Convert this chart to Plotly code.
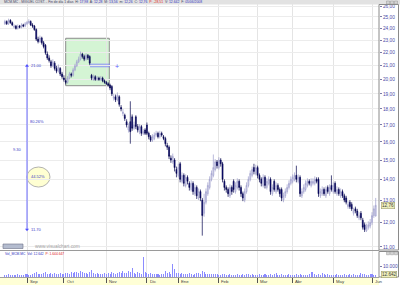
import math
import pandas as pd
import plotly.graph_objects as go

W, H = 400, 285

# ---------------- data ----------------
holidays = ['2007-12-24', '2007-12-25', '2007-12-26', '2007-12-31',
            '2008-01-01', '2008-03-21', '2008-03-24', '2008-05-01']
first_day, last_day = '2007-08-16', '2008-06-04'

month_starts = ['2007-09-01', '2007-10-01', '2007-11-01', '2007-12-01', '2008-01-01',
                '2008-02-01', '2008-03-01', '2008-04-01', '2008-05-01', '2008-06-01']
month_labels = ['Sep', 'Oct', 'Nov', 'Dic', 'Ene', 'Feb', 'Mar', 'Abr', 'May', 'Jun']

price_ticks = [11, 12, 13, 14, 15, 16, 17, 18, 19, 20, 21, 22, 23, 24, 25, 26]
vol_ticks = [10000]

open_ = [
    24.40, 24.60, 24.40, 24.70, 24.50, 24.10, 24.20, 24.00, 24.20, 24.10,
    24.30, 24.20, 24.40, 24.50, 24.60, 24.30, 24.20, 23.90, 23.10, 22.90,
    23.20, 22.80, 22.60, 21.90, 21.60, 21.30, 21.00, 21.20, 20.80, 20.60,
    20.80, 20.40, 20.10, 19.90, 19.80, 20.10, 20.40, 20.30, 20.70, 21.00,
    21.30, 21.50, 21.90, 21.70, 21.50, 21.80, 21.70, 20.30, 20.00, 20.20,
    20.00, 20.10, 20.00, 20.10, 19.90, 19.80, 19.70, 19.60, 19.50, 18.70,
    18.80, 18.60, 18.80, 18.10, 17.70, 17.60, 17.20, 16.70, 17.20, 17.50,
    16.80, 17.50, 16.90, 16.60, 16.90, 16.50, 16.70, 17.00, 16.50, 16.30,
    16.10, 16.20, 16.40, 16.50, 16.30, 16.50, 16.30, 16.20, 15.80, 15.70,
    15.10, 14.90, 15.00, 14.50, 14.20, 14.80, 13.90, 14.20, 13.70, 14.10,
    13.80, 13.50, 13.80, 13.30, 13.60, 13.10, 13.40, 13.00, 12.40, 12.90,
    13.30, 13.60, 14.00, 14.20, 14.50, 14.90, 14.60, 15.00, 14.80, 13.90,
    13.60, 13.50, 13.20, 13.60, 13.90, 13.40, 13.60, 13.90, 13.60, 13.30,
    13.00, 13.40, 13.70, 14.00, 14.20, 14.60, 14.30, 14.60, 14.20, 14.00,
    13.70, 14.10, 13.60, 13.80, 14.00, 13.30, 13.90, 13.40, 13.70, 13.50,
    13.50, 13.00, 13.20, 13.40, 13.60, 13.80, 13.90, 14.00, 14.20, 13.90,
    14.10, 13.20, 13.40, 13.50, 13.70, 13.90, 13.70, 13.80, 13.80, 14.00,
    14.00, 13.20, 13.30, 13.50, 13.20, 13.60, 13.30, 13.70, 13.40, 13.80,
    13.30, 13.50, 13.20, 13.40, 13.20, 13.10, 12.70, 12.90, 12.80, 12.40,
    12.60, 12.50, 12.20, 12.40, 12.10, 11.90, 11.65, 11.80, 11.85, 12.00,
    12.30, 12.28,
]
high = [
    24.75, 24.70, 24.85, 24.80, 24.60, 24.35, 24.30, 24.35, 24.30, 24.45,
    24.40, 24.55, 24.65, 24.80, 24.70, 24.45, 24.30, 24.00, 23.30, 23.40,
    23.30, 22.95, 22.70, 22.10, 21.80, 21.45, 21.50, 21.35, 21.00, 21.10,
    20.90, 20.55, 20.30, 20.05, 20.25, 20.55, 20.50, 20.85, 21.15, 21.45,
    21.70, 22.10, 22.00, 21.85, 21.95, 21.90, 21.80, 20.40, 20.35, 20.30,
    20.25, 20.20, 20.25, 20.20, 20.00, 19.90, 19.80, 19.70, 19.60, 19.00,
    18.95, 19.10, 18.90, 18.25, 18.00, 17.70, 17.35, 17.10, 18.50, 17.65,
    17.20, 17.60, 17.05, 17.05, 17.00, 16.75, 16.80, 17.15, 16.60, 16.40,
    16.45, 16.55, 16.65, 16.60, 16.65, 16.60, 16.40, 16.30, 15.95, 15.80,
    15.25, 15.35, 15.10, 14.65, 14.80, 14.90, 14.35, 14.30, 14.25, 14.20,
    13.90, 13.95, 13.90, 13.75, 13.70, 13.55, 13.50, 13.10, 13.30, 13.55,
    13.85, 14.15, 14.45, 15.30, 15.05, 15.00, 15.15, 15.10, 14.90, 14.00,
    13.70, 13.60, 13.75, 13.70, 14.00, 13.85, 14.05, 14.00, 13.70, 13.40,
    13.55, 13.85, 14.15, 14.45, 14.65, 14.80, 14.75, 14.70, 14.30, 14.10,
    14.25, 14.20, 14.05, 14.15, 14.10, 13.75, 14.00, 13.85, 13.80, 13.60,
    13.60, 13.35, 13.55, 13.75, 13.95, 14.15, 14.25, 14.35, 14.70, 14.25,
    14.20, 13.55, 13.75, 13.95, 14.05, 14.00, 14.05, 14.05, 14.15, 14.10,
    14.10, 13.55, 13.65, 13.60, 13.65, 13.70, 13.75, 14.20, 13.85, 13.90,
    13.65, 13.60, 13.55, 13.50, 13.30, 13.20, 12.95, 13.00, 12.90, 12.65,
    12.70, 12.60, 12.45, 12.50, 12.20, 12.00, 11.95, 12.05, 12.15, 12.45,
    12.75, 13.10,
]
low = [
    24.30, 24.30, 24.30, 24.40, 24.20, 24.00, 23.90, 23.90, 24.00, 24.00,
    24.10, 24.10, 24.30, 24.40, 24.20, 24.05, 23.80, 22.95, 22.75, 22.80,
    22.65, 22.35, 21.85, 21.45, 21.25, 20.85, 20.90, 20.65, 20.45, 20.50,
    20.25, 20.05, 19.85, 19.65, 19.70, 20.00, 20.15, 20.20, 20.60, 20.90,
    21.20, 21.40, 21.55, 21.35, 21.40, 21.45, 21.05, 19.95, 19.90, 19.90,
    19.90, 19.90, 19.90, 19.80, 19.70, 19.60, 19.50, 19.25, 18.85, 18.55,
    18.45, 18.50, 18.15, 17.85, 17.55, 17.25, 16.85, 16.55, 15.90, 16.65,
    16.70, 16.75, 16.55, 16.45, 16.35, 16.40, 16.40, 16.40, 16.15, 16.00,
    16.00, 16.10, 16.30, 16.20, 16.20, 16.30, 16.10, 15.75, 15.55, 15.05,
    14.85, 14.80, 14.40, 14.10, 14.10, 13.85, 13.80, 13.65, 13.60, 13.75,
    13.45, 13.40, 13.25, 13.20, 13.05, 13.00, 12.95, 11.45, 12.25, 12.80,
    13.20, 13.50, 13.90, 14.10, 14.40, 14.55, 14.50, 14.65, 13.85, 13.45,
    13.35, 13.15, 13.10, 13.25, 13.35, 13.30, 13.50, 13.45, 13.15, 12.95,
    12.90, 13.30, 13.60, 13.90, 14.10, 14.25, 14.20, 14.05, 13.85, 13.65,
    13.60, 13.55, 13.50, 13.70, 13.25, 13.20, 13.40, 13.30, 13.40, 13.15,
    12.95, 12.90, 13.10, 13.30, 13.50, 13.70, 13.80, 13.90, 13.85, 13.80,
    13.15, 13.10, 13.30, 13.40, 13.60, 13.70, 13.60, 13.70, 13.70, 13.80,
    13.15, 13.10, 13.20, 13.20, 13.10, 13.30, 13.20, 13.40, 13.30, 13.30,
    13.20, 13.20, 13.10, 13.10, 12.90, 12.80, 12.60, 12.60, 12.50, 12.30,
    12.40, 12.20, 12.10, 12.10, 11.70, 11.60, 11.60, 11.70, 11.75, 11.90,
    12.20, 12.26,
]
close = [
    24.60, 24.40, 24.70, 24.50, 24.30, 24.20, 24.00, 24.20, 24.10, 24.30,
    24.20, 24.40, 24.50, 24.60, 24.30, 24.20, 23.90, 23.10, 22.90, 23.20,
    22.80, 22.50, 22.00, 21.60, 21.40, 21.00, 21.30, 20.80, 20.60, 20.90,
    20.40, 20.20, 20.00, 19.80, 20.10, 20.40, 20.30, 20.70, 21.00, 21.30,
    21.50, 21.90, 21.70, 21.50, 21.80, 21.60, 21.20, 20.10, 20.20, 20.00,
    20.10, 20.00, 20.10, 19.90, 19.80, 19.70, 19.60, 19.40, 19.00, 18.80,
    18.60, 18.90, 18.30, 18.00, 17.80, 17.40, 17.00, 16.90, 16.60, 16.80,
    17.00, 16.90, 16.70, 16.90, 16.50, 16.60, 16.50, 16.50, 16.30, 16.10,
    16.30, 16.40, 16.50, 16.30, 16.50, 16.40, 16.20, 15.90, 15.70, 15.20,
    15.00, 15.20, 14.60, 14.30, 14.60, 14.00, 14.20, 13.80, 14.10, 13.90,
    13.60, 13.80, 13.40, 13.60, 13.20, 13.40, 13.10, 12.30, 12.90, 13.40,
    13.70, 14.00, 14.30, 14.60, 14.90, 14.70, 15.00, 14.80, 14.00, 13.60,
    13.50, 13.30, 13.60, 13.40, 13.50, 13.70, 13.90, 13.60, 13.30, 13.10,
    13.40, 13.70, 14.00, 14.30, 14.50, 14.40, 14.60, 14.20, 14.00, 13.80,
    14.10, 13.70, 13.90, 14.00, 13.40, 13.60, 13.50, 13.70, 13.50, 13.30,
    13.10, 13.20, 13.40, 13.60, 13.80, 14.00, 14.10, 14.20, 14.00, 14.10,
    13.30, 13.40, 13.60, 13.80, 13.90, 13.80, 13.90, 13.90, 14.00, 13.90,
    13.30, 13.40, 13.50, 13.30, 13.50, 13.40, 13.60, 13.50, 13.70, 13.40,
    13.50, 13.30, 13.40, 13.20, 13.00, 12.90, 12.80, 12.70, 12.60, 12.50,
    12.50, 12.30, 12.30, 12.20, 11.80, 11.70, 11.80, 11.90, 12.00, 12.30,
    12.60, 12.76,
]
volume = [
    # Aug
    2000, 1800, 2500, 1500, 2200, 1700, 2000, 2400, 1600, 1900, 2100, 2600,
    # Sep
    2300, 1800, 2000, 2700, 3200, 4500, 3000, 2400, 2800, 3500,
    4200, 3000, 2600, 3800, 2900, 3300, 2700, 3100, 3600, 2800,
    # Oct
    3000, 4000, 3400, 2900, 4600, 3800, 5000, 4200, 3600, 5400, 4400, 3200,
    3900, 3000, 4800, 6000, 3500, 2800, 3300, 2600, 3000, 2700, 3400,
    # Nov
    2900, 3600, 3100, 4500, 3800, 2800, 3300, 4100, 3500, 5200, 4000,
    3600, 5800, 4400, 8200, 3700, 3000, 4300, 3500, 2900, 18500, 5000,
    # Dec
    3400, 2800, 3200, 2600, 2400, 2900, 2500, 2200, 3000, 2700, 5200,
    3600, 4800, 3100, 11500, 7000, 3900,
    # Jan
    3200, 2800, 3500, 2600, 3000, 2400, 3300, 2700, 2200, 2900, 3600,
    4000, 3100, 5500, 4200, 3000, 2600, 2400, 3100, 2800, 2300, 2500,
    # Feb
    2200, 2000, 2600, 2300, 1900, 2100, 2500, 1800, 2200, 2000, 2400,
    1700, 2100, 2300, 1900, 2600, 2800, 2200, 2500, 2000, 1800,
    # Mar
    2100, 2400, 1900, 2200, 2700, 2000, 1800, 2300, 2100, 2400,
    3900, 2000, 1700, 2500, 2200, 1900, 2100, 2300, 2000,
    # Apr
    2000, 2200, 2600, 1900, 2400, 2100, 1800, 2200, 2000, 2300, 4200,
    4600, 2500, 2100, 2800, 2200, 3800, 2400, 2000, 2600, 2200, 1900,
    # May
    2100, 1900, 2300, 2000, 1800, 2200, 2400, 2000, 1900, 2300, 2100,
    2600, 2000, 1800, 2200, 3300, 2400, 2600, 2200, 2000, 2300,
    # Jun
    2400, 2100, 1600,
]

# measurement tool drawn on the chart
meas_top, meas_bottom = 21.00, 11.70
meas_labels = {'diff': '9.30', 'up': '80.26%', 'down': '44.52%'}
last_close_label = '12,76'
last_vol_label = '12.642'

title_txt = ("MCM.MC - MIGUEL COST. - Fin de día 1 días  H: <span style='color:#3030c0'>17,98</span>"
             "  A: <span style='color:#3030c0'>12,28</span>  M: <span style='color:#3030c0'>13,56</span>"
             "  m: <span style='color:#3030c0'>12,26</span>  C: <span style='color:#3030c0'>12,76</span>"
             "  <span style='color:#e02020'>P: -28,51</span>  V: <span style='color:#3030c0'>12.642</span>"
             "  F: <span style='color:#3030c0'>05/06/2008</span>")
vol_legend = ("Vol_MCM.MC  Vol: 12.642  <span style='color:#e02020'>P: 1.644.647</span>")

# ---------------- geometry ----------------
dates = pd.bdate_range(first_day, last_day)
dates = dates[~dates.isin(pd.to_datetime(holidays))]
n = len(dates)
assert n == len(open_) == len(high) == len(low) == len(close) == len(volume), (
    n, len(open_), len(high), len(low), len(close), len(volume))
idx = list(range(n))
month_idx = [int((dates < pd.Timestamp(m)).sum()) for m in month_starts]


def fx(px):
    return px / W


def fy(py):
    return 1 - py / H


i_sep, i_jun = month_idx[0], month_idx[-1]
bar_px = (372 - 27) / (i_jun - i_sep)
x_lo = i_sep - 27 / bar_px
x_hi = i_sep + (379 - 27) / bar_px

Y_DOM = [fy(250), fy(4)]
LN10 = math.log(10)
Y_RANGE = [math.log10(26) - (244 / 280) / LN10, math.log10(26) + (2 / 280) / LN10]
V_DOM = [fy(277), fy(251)]
V_RANGE = [0, 10000 * 26 / 11]


def yp(price):
    f = (math.log10(price) - Y_RANGE[0]) / (Y_RANGE[1] - Y_RANGE[0])
    return Y_DOM[0] + f * (Y_DOM[1] - Y_DOM[0])


def xi(px):
    return i_sep + (px - 27) / bar_px


FONT = "Liberation Sans"
BLUE = '#4040c8'

fig = go.Figure()
fig.add_trace(go.Candlestick(
    x=idx, open=open_, high=high, low=low, close=close,
    increasing=dict(line=dict(color='#9c9ccc', width=0.7), fillcolor='#e8e8f6'),
    decreasing=dict(line=dict(color='#00004a', width=0.7), fillcolor='#000080'),
    whiskerwidth=0, xaxis='x', yaxis='y', showlegend=False, hoverinfo='skip'))

fig.add_trace(go.Bar(
    x=idx, y=volume, xaxis='x2', yaxis='y2', marker=dict(color='#8c8cff', line=dict(width=0)),
    width=0.55, showlegend=False, hoverinfo='skip'))

fig.add_trace(go.Scatter(
    x=[i_sep, i_sep], y=[meas_top, meas_bottom], xaxis='x', yaxis='y', mode='lines+markers',
    line=dict(color='#6a6aff', width=1),
    marker=dict(symbol=['triangle-up', 'triangle-down'], size=3.5, color='#5050ff'),
    showlegend=False, hoverinfo='skip'))

shapes = [
    # title strip
    dict(type='rect', xref='paper', yref='paper', x0=0, x1=1, y0=fy(4.5), y1=1,
         fillcolor='#e2e2e2', line=dict(width=0), layer='below'),
    # date strip
    dict(type='rect', xref='paper', yref='paper', x0=0, x1=fx(379), y0=0, y1=fy(277),
         fillcolor='#ffffd6', line=dict(width=0), layer='below'),
    # separator main/volume
    dict(type='line', xref='paper', yref='paper', x0=0, x1=fx(379), y0=fy(250.5), y1=fy(250.5),
         line=dict(color='#9a9a9a', width=1)),
    # right axis boxes
    dict(type='rect', xref='paper', yref='paper', x0=fx(379), x1=fx(398.5), y0=fy(250), y1=fy(4.5),
         line=dict(color='#8a8a8a', width=1)),
    dict(type='rect', xref='paper', yref='paper', x0=fx(379), x1=fx(398.5), y0=fy(277), y1=fy(251.5),
         line=dict(color='#8a8a8a', width=1)),
    # green selection rectangle
    dict(type='rect', xref='x', yref='paper', x0=xi(65.7), x1=xi(109.3), y0=yp(19.56), y1=yp(23.17),
         fillcolor='#d4f4d4', line=dict(color='#8c8c8c', width=1), layer='below'),
    # double blue line
    dict(type='line', xref='x', yref='paper', x0=xi(90), x1=xi(110), y0=yp(21.12), y1=yp(21.12),
         line=dict(color='#7878ff', width=0.8)),
    dict(type='line', xref='x', yref='paper', x0=xi(90), x1=xi(110), y0=yp(20.93), y1=yp(20.93),
         line=dict(color='#7878ff', width=0.8)),
    # ellipse
    dict(type='circle', xref='x', yref='paper', x0=i_sep, x1=xi(50), y0=yp(13.62), y1=yp(14.63),
         fillcolor='#ffffd2', line=dict(color='#a0a0a0', width=0.8), layer='below'),
    # small grey box near watermark
    dict(type='rect', xref='paper', yref='paper', x0=fx(3), x1=fx(23), y0=fy(248.5), y1=fy(244),
         fillcolor='#b4bccf', line=dict(color='#6c7088', width=0.6)),
]
# tiny window buttons
for yb in (1.0, 251.8):
    for xb in (386.5, 390.5, 394.5):
        shapes.append(dict(type='rect', xref='paper', yref='paper', x0=fx(xb), x1=fx(xb + 3),
                           y0=fy(yb + 3), y1=fy(yb), fillcolor='#d4d4d4',
                           line=dict(color='#888888', width=0.4)))

ann = [
    dict(text=title_txt, xref='paper', yref='paper', x=fx(2), y=fy(2.4), xanchor='left',
         yanchor='middle', showarrow=False, font=dict(size=3.4, color='#404060', family=FONT)),
    dict(text=vol_legend, xref='paper', yref='paper', x=fx(3), y=fy(254), xanchor='left',
         yanchor='middle', showarrow=False, font=dict(size=3.3, color='#3030c0', family=FONT)),
    dict(text='www.visualchart.com', xref='paper', yref='paper', x=fx(33), y=fy(246.3),
         xanchor='left', yanchor='middle', showarrow=False,
         font=dict(size=4.8, color='#a4a4a4', family=FONT)),
    dict(text=last_close_label, xref='paper', yref='paper', x=fx(380.5), y=yp(close[-1]),
         xanchor='left', yanchor='middle', showarrow=False, bgcolor='#eeeebb',
         bordercolor='#a0a070', borderwidth=0.6, borderpad=0.4,
         font=dict(size=4.6, color='#404040', family=FONT)),
    dict(text=last_vol_label, xref='paper', yref='paper', x=fx(380.5), y=fy(274.3),
         xanchor='left', yanchor='middle', showarrow=False, bgcolor='#eeeebb',
         bordercolor='#a0a070', borderwidth=0.6, borderpad=0.4,
         font=dict(size=4.6, color='#404040', family=FONT)),
    dict(text=f'{meas_top:.2f}', xref='x', yref='paper', x=i_sep, y=yp(meas_top), xanchor='left',
         xshift=1.5, yanchor='middle', showarrow=False, font=dict(size=4, color=BLUE, family=FONT)),
    dict(text=f'{meas_bottom:.2f}', xref='x', yref='paper', x=i_sep, y=yp(meas_bottom),
         xanchor='left', xshift=1.5, yanchor='middle', showarrow=False,
         font=dict(size=4, color=BLUE, family=FONT)),
    dict(text=meas_labels['up'], xref='x', yref='paper', x=i_sep, y=yp(17.24), xanchor='left',
         xshift=0.5, yanchor='middle', showarrow=False, font=dict(size=4, color=BLUE, family=FONT)),
    dict(text=meas_labels['diff'], xref='x', yref='paper', x=i_sep, y=yp(15.6), xanchor='right',
         xshift=-3.5, yanchor='middle', showarrow=False, font=dict(size=4, color=BLUE, family=FONT)),
    dict(text=meas_labels['down'], xref='x', yref='paper', x=i_sep, y=yp(14.12), xanchor='left',
         xshift=1.5, yanchor='middle', showarrow=False, font=dict(size=4, color=BLUE, family=FONT)),
    dict(text='+', xref='x', yref='paper', x=xi(117), y=yp(20.93), xanchor='center',
         yanchor='middle', showarrow=False, font=dict(size=7, color='#5858ff', family=FONT)),
]
for mi, ml in zip(month_idx, month_labels):
    ann.append(dict(text=ml, xref='x2', yref='paper', x=mi, y=fy(281.3), xanchor='left', xshift=0.6,
                    yanchor='middle', showarrow=False,
                    font=dict(size=4.3, color='#404040', family=FONT)))

fig.update_layout(
    width=W, height=H, margin=dict(l=0, r=0, t=0, b=0),
    paper_bgcolor='white', plot_bgcolor='white', separators=',.',
    font=dict(family=FONT, size=5, color='#404040'),
    showlegend=False, hovermode=False, bargap=0,
    xaxis=dict(domain=[0, fx(379)], range=[x_lo, x_hi], anchor='y', tickvals=month_idx,
               showticklabels=False, ticks='', showgrid=True, gridcolor='#e4e4e4', gridwidth=1,
               zeroline=False, showline=False, rangeslider=dict(visible=False), fixedrange=True),
    yaxis=dict(domain=Y_DOM, type='log', range=Y_RANGE, anchor='x', side='right',
               tickvals=price_ticks, tickformat='.2f', ticks='outside', ticklen=2,
               tickcolor='#7a7aa8', tickfont=dict(size=4.8, color='#4a4aa8', family=FONT),
               showgrid=True, gridcolor='#ececec', gridwidth=1, zeroline=False, showline=False,
               fixedrange=True),
    xaxis2=dict(domain=[0, fx(379)], matches='x', anchor='y2', tickvals=month_idx,
                showticklabels=False, ticks='outside', ticklen=5, tickcolor='#555555',
                tickwidth=1, showgrid=True, gridcolor='#e8e8e8', zeroline=False,
                showline=True, linecolor='#a0a0a0', linewidth=1, fixedrange=True),
    yaxis2=dict(domain=V_DOM, range=V_RANGE, anchor='x2', side='right', tickvals=vol_ticks,
                tickformat=',d', ticks='outside', ticklen=2, tickcolor='#7a7aa8',
                tickfont=dict(size=4.8, color='#4a4aa8', family=FONT), showgrid=False,
                zeroline=False, showline=False, fixedrange=True),
    shapes=shapes, annotations=ann,
)

fig.write_html("out.html", config={'displayModeBar': False, 'staticPlot': True})
